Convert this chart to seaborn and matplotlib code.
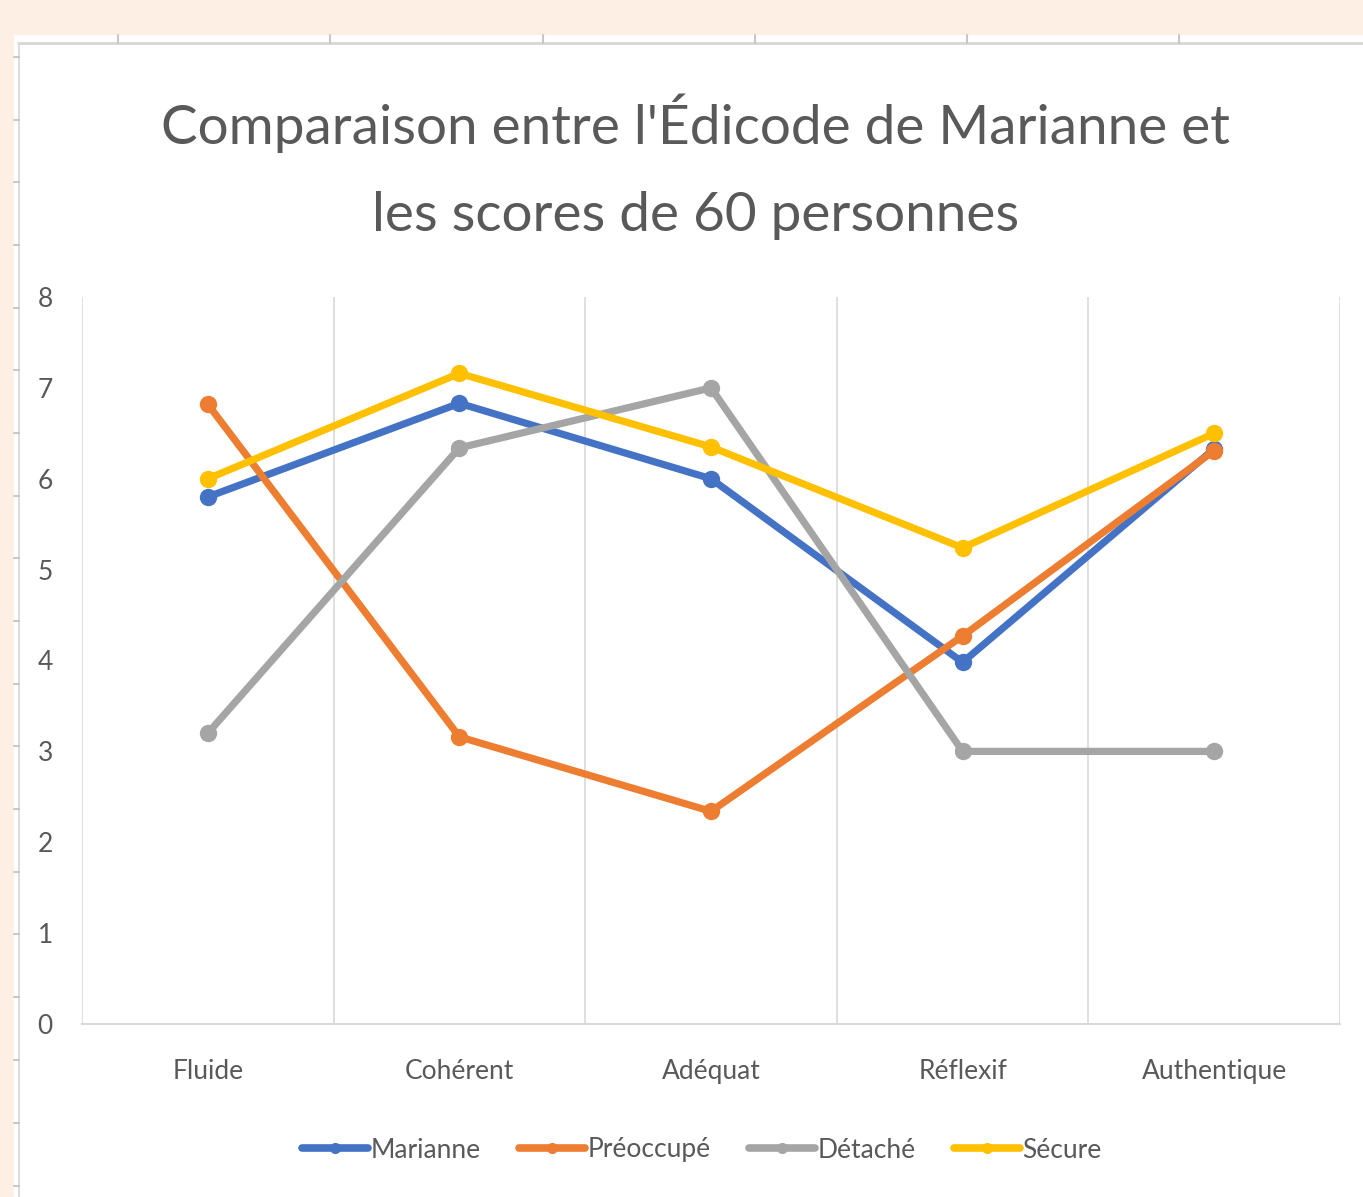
import pandas as pd
import numpy as np
import matplotlib.pyplot as plt
import seaborn as sns
from matplotlib.patches import Rectangle
from matplotlib.lines import Line2D

categories = ['Fluide', 'Cohérent', 'Adéquat', 'Réflexif', 'Authentique']
marianne = [5.8, 6.83, 6.0, 3.98, 6.33]
preoccupe = [6.82, 3.16, 2.34, 4.27, 6.31]
detache = [3.2, 6.34, 7.0, 3.0, 3.0]
secure = [6.0, 7.16, 6.35, 5.24, 6.5]
series_names = ['Marianne', 'Préoccupé', 'Détaché', 'Sécure']
colors = ['#4472C4', '#ED7D31', '#A5A5A5', '#FFC000']

df = pd.DataFrame({
    'categorie': categories * 4,
    'score': marianne + preoccupe + detache + secure,
    'profil': np.repeat(series_names, len(categories)),
})

sns.set_theme(style='white')
plt.rcParams['font.family'] = ['Lato', 'DejaVu Sans']
text_grey = '#595959'
grid_grey = '#D9D9D9'

fig = plt.figure(figsize=(13.63, 11.97), dpi=100)
fig.patch.set_facecolor('#FDEFE4')

# white chart card + faint spreadsheet border
fig.patches.append(Rectangle((14 / 1363, 0), 1, 1 - 35 / 1197, transform=fig.transFigure,
                             facecolor='white', edgecolor='none', zorder=-10))
fig.lines.append(Line2D([18 / 1363, 1], [1 - 43 / 1197] * 2, transform=fig.transFigure,
                        color='#D6D6D6', lw=2, zorder=-5))
fig.lines.append(Line2D([19 / 1363] * 2, [0, 1 - 43 / 1197], transform=fig.transFigure,
                        color='#DCDCDC', lw=1.5, zorder=-5))
for xp in [118, 330, 543, 755, 967, 1179]:
    fig.lines.append(Line2D([xp / 1363] * 2, [1 - 35 / 1197, 1 - 43 / 1197],
                            transform=fig.transFigure, color='#C8C8C8', lw=1.5, zorder=-5))
for yp in [57, 120, 182, 245, 308, 370, 433, 496, 558, 621, 684, 746, 809, 872, 934, 997, 1060, 1123, 1186]:
    fig.lines.append(Line2D([14 / 1363, 19 / 1363], [1 - yp / 1197] * 2,
                            transform=fig.transFigure, color='#C8C8C8', lw=1.5, zorder=-5))

ax = fig.add_axes([82 / 1363, 1 - 1024 / 1197, (1340 - 82) / 1363, (1024 - 297) / 1197])
ax.set_zorder(2)
ax.set_facecolor('white')

sns.lineplot(data=df, x='categorie', y='score', hue='profil', palette=colors,
             marker='o', markersize=12.5, markeredgewidth=0, linewidth=5.2,
             sort=False, ax=ax, legend=False)

ax.set_xlim(-0.5, len(categories) - 0.5)
ax.set_ylim(0, 8)
ax.set_yticks(range(0, 9))
for xv in np.arange(-0.5, len(categories), 1.0):
    ax.axvline(xv, color=grid_grey, lw=1.2, zorder=0)
ax.set_xlabel('')
ax.set_ylabel('')
for s in ['top', 'left', 'right']:
    ax.spines[s].set_visible(False)
ax.spines['bottom'].set_color(grid_grey)
ax.spines['bottom'].set_linewidth(1.5)
ax.tick_params(axis='y', length=0, pad=21, labelsize=19, labelcolor=text_grey)
ax.tick_params(axis='x', length=0, pad=25, labelsize=19, labelcolor=text_grey)

fig.text(0.51, 1 - 167 / 1197, "Comparaison entre l'Édicode de Marianne et\nles scores de 60 personnes",
         ha='center', va='center', fontsize=39.5, color=text_grey, linespacing=1.95)

handles = [Line2D([0], [0], color=c, lw=5.5, marker='o', markersize=8, markeredgewidth=0)
           for c in colors]
fig.legend(handles, series_names, loc='center', bbox_to_anchor=(0.515, 1 - 1150 / 1197),
           ncol=4, frameon=False, fontsize=19, labelcolor=text_grey,
           handlelength=2.5, handletextpad=0.1, columnspacing=1.45)

fig.savefig('out.png', dpi=100, facecolor=fig.get_facecolor())
